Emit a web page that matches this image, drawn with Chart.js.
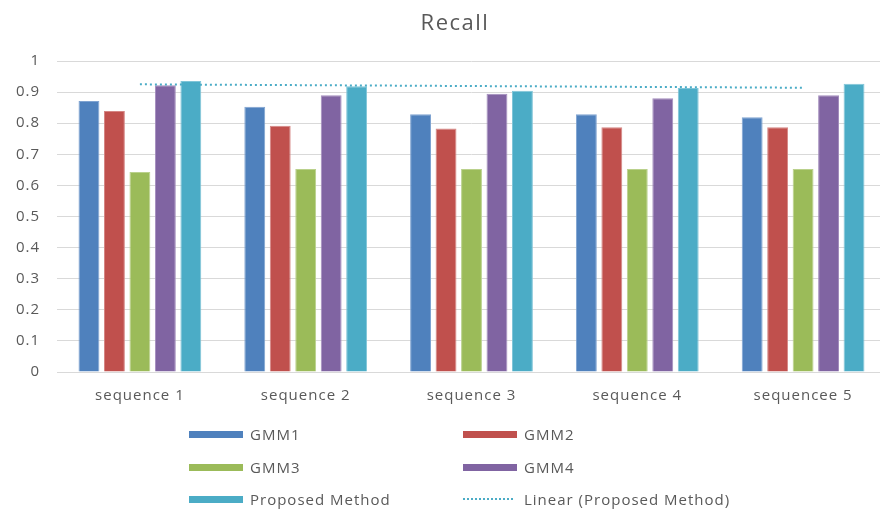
<!DOCTYPE html>
<html>
<head>
<meta charset="utf-8">
<script src="https://cdn.jsdelivr.net/npm/chart.js@4/dist/chart.umd.min.js"></script>
<style>
  html, body { margin: 0; padding: 0; background: #fff; overflow: hidden; width: 880px; height: 512px; }
  #wrap { position: relative; width: 910px; height: 512px; }
  #title { position: absolute; left: 355px; width: 200px; top: 6px; text-align: center;
           font-family: "Open Sans", sans-serif; font-size: 22px; letter-spacing: 1.5px; color: #595959; line-height: 30px; }
  #legend { position: absolute; left: 0; top: 0; width: 880px; height: 512px; pointer-events: none;
            font-family: "Open Sans", sans-serif; font-size: 15px; letter-spacing: 1px; color: #595959; }
  .item { position: absolute; height: 20px; display: flex; align-items: center; white-space: nowrap; }
  .sw { width: 54px; height: 7px; margin-right: 7px; }
  .dot { width: 50px; height: 0; border-top: 2px dotted #4BACC6; margin-right: 11px; }
</style>
</head>
<body>
<div id="wrap">
  <canvas id="c" width="910" height="512"></canvas>
  <div id="title"></div>
  <div id="legend"></div>
</div>
<script>
const chartTitle = "Recall";
const categories = ["sequence 1", "sequence 2", "sequence 3", "sequence 4", "sequencee 5"];
const seriesNames = ["GMM1", "GMM2", "GMM3", "GMM4", "Proposed Method"];
const gmm1 = [0.871, 0.853, 0.829, 0.829, 0.819];
const gmm2 = [0.839, 0.792, 0.783, 0.787, 0.787];
const gmm3 = [0.643, 0.653, 0.653, 0.653, 0.653];
const gmm4 = [0.922, 0.890, 0.895, 0.880, 0.890];
const proposed = [0.936, 0.919, 0.904, 0.913, 0.927];
const trendName = "Linear (Proposed Method)";
const trendValues = [0.925, null, null, null, 0.914];
const yTicks = [0, 0.1, 0.2, 0.3, 0.4, 0.5, 0.6, 0.7, 0.8, 0.9, 1];

const colors = ["#4F81BD", "#C0504D", "#9BBB59", "#8064A2", "#4BACC6"];
const borders = ["#7FA3D1", "#D58684", "#BAD18C", "#A38DBD", "#80C5D8"];
const seriesValues = [gmm1, gmm2, gmm3, gmm4, proposed];

const datasets = seriesValues.map((vals, i) => ({
  type: 'bar',
  label: seriesNames[i],
  data: vals,
  backgroundColor: colors[i],
  borderColor: borders[i],
  borderWidth: 1,
  order: 1,
  categoryPercentage: 0.768,
  barPercentage: 0.82
}));
datasets.push({
  type: 'line',
  label: trendName,
  data: trendValues,
  spanGaps: true,
  borderColor: "#4BACC6",
  borderWidth: 2,
  borderDash: [2, 3],
  pointRadius: 0,
  fill: false,
  order: 0
});

const textColor = "#595959";
const fontFam = "'Open Sans', sans-serif";

const spacingPlugin = {
  id: 'letterSpacing',
  beforeUpdate(chart) { chart.ctx.letterSpacing = '1px'; },
  beforeLayout(chart) { chart.ctx.letterSpacing = '1px'; },
  beforeDraw(chart) { chart.ctx.letterSpacing = '1px'; }
};

new Chart(document.getElementById('c'), {
  data: { labels: categories, datasets: datasets },
  plugins: [spacingPlugin],
  options: {
    responsive: false,
    animation: false,
    layout: { padding: { left: 0, right: 24, top: 61, bottom: 100 } },
    plugins: {
      legend: { display: false },
      tooltip: { enabled: false },
      title: { display: false }
    },
    scales: {
      x: {
        grid: { display: false, drawTicks: false },
        border: { display: true, color: "#d9d9d9", width: 1 },
        ticks: { color: textColor, font: { family: fontFam, size: 15 }, padding: 15, maxRotation: 0 },
        afterFit: (s) => { s.height = 40; }
      },
      y: {
        min: 0, max: 1,
        afterBuildTicks: (s) => { s.ticks = yTicks.map(v => ({ value: v })); },
        grid: { color: "#d9d9d9", lineWidth: 1, drawTicks: false },
        border: { display: false },
        ticks: {
          color: textColor, font: { family: fontFam, size: 15 }, padding: 17,
          callback: (v) => String(Math.round(v * 10) / 10)
        },
        afterFit: (s) => { s.width = 57; }
      }
    }
  }
});

document.getElementById('title').textContent = chartTitle;

// HTML legend (2 columns, 3 rows)
const legendItems = [
  { name: seriesNames[0], color: colors[0], x: 189, y: 434 },
  { name: seriesNames[1], color: colors[1], x: 463, y: 434 },
  { name: seriesNames[2], color: colors[2], x: 189, y: 467 },
  { name: seriesNames[3], color: colors[3], x: 463, y: 467 },
  { name: seriesNames[4], color: colors[4], x: 189, y: 499 },
  { name: trendName, dotted: true, x: 463, y: 499 }
];
const lg = document.getElementById('legend');
legendItems.forEach(it => {
  const d = document.createElement('div');
  d.className = 'item';
  d.style.left = it.x + 'px';
  d.style.top = (it.y - 10) + 'px';
  const sw = document.createElement('span');
  if (it.dotted) { sw.className = 'dot'; }
  else { sw.className = 'sw'; sw.style.background = it.color; }
  const t = document.createElement('span');
  t.textContent = it.name;
  d.appendChild(sw); d.appendChild(t);
  lg.appendChild(d);
});
</script>
</body>
</html>
